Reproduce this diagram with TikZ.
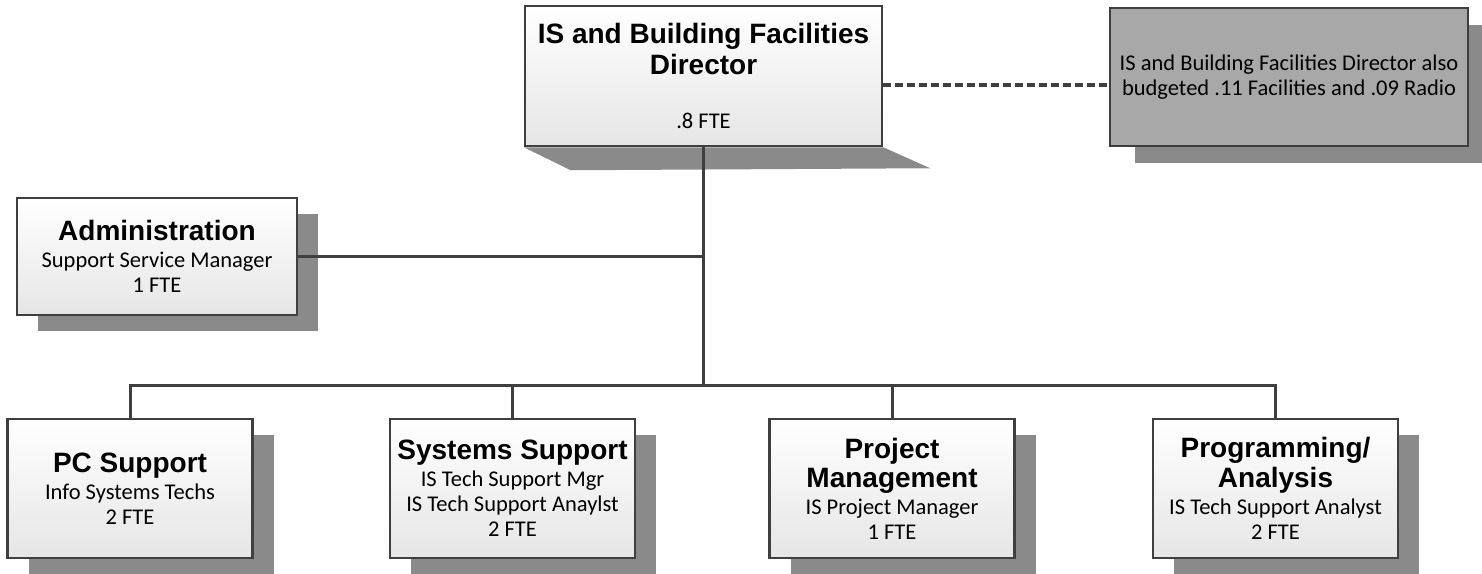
\documentclass[tikz,border=0pt]{standalone}
\usepackage{fontspec}
\setmainfont{Carlito}
\newfontfamily\headfamily{Liberation Sans}
\usetikzlibrary{shadows,backgrounds}
\definecolor{boxline}{HTML}{3F3F3F}
\definecolor{shadowgray}{HTML}{8A8A8A}
\definecolor{notegray}{HTML}{A8A8A8}
\newcommand{\headfont}{\headfamily\bfseries\fontsize{28}{31}\selectfont}
\newcommand{\bodyfont}{\normalfont\fontsize{22.5}{25}\selectfont}
\tikzset{
  plainunit/.style={draw=boxline,line width=2.5pt,top color=white,bottom color=black!10,
    align=center,inner sep=0pt,minimum width=245pt,minimum height=139pt},
  unit/.style={plainunit,
    drop shadow={shadow xshift=21pt,shadow yshift=-16pt,opacity=1,fill=shadowgray}},
  link/.style={draw=boxline,line width=3pt},
  notelink/.style={link,line width=3.5pt,dash pattern=on 8pt off 4pt}
}
\begin{document}
\begin{tikzpicture}[x=1pt,y=-1pt,font=\bodyfont]
  \useasboundingbox (0,0) rectangle (1482,573);
  \node[plainunit,minimum width=357pt,minimum height=140pt] (dir) at (703.5,76) {\headfont IS and Building Facilities\\[3pt]\headfont Director\\[29pt]\bodyfont .8 FTE};
  \node[plainunit,top color=notegray,bottom color=notegray,minimum width=358pt,minimum height=138pt,
    drop shadow={shadow xshift=25pt,shadow yshift=-17pt,opacity=1,fill=shadowgray}] (note) at (1289,77) {IS and Building Facilities Director also\\budgeted .11 Facilities and .09 Radio};
  \node[unit,minimum width=280pt,minimum height=117pt] (admin) at (157,256.5) {\headfont Administration\\[2pt]\bodyfont Support Service Manager\\\bodyfont 1 FTE};
  \node[unit] (pc) at (130,488.5) {\headfont PC Support\\[2pt]\bodyfont Info Systems Techs\\\bodyfont 2 FTE};
  \node[unit] (sys) at (512.5,488.5) {\headfont Systems Support\\[2pt]\bodyfont IS Tech Support Mgr\\\bodyfont IS Tech Support Anaylst\\\bodyfont 2 FTE};
  \node[unit] (pm) at (892,488.5) {\headfont Project\\[3pt]\headfont Management\\[2pt]\bodyfont IS Project Manager\\\bodyfont 1 FTE};
  \node[unit] (pa) at (1275.5,488.5) {\headfont Programming/\\[3pt]\headfont Analysis\\[2pt]\bodyfont IS Tech Support Analyst\\\bodyfont 2 FTE};
  \begin{scope}[on background layer]
    \fill[shadowgray] (dir.south west) -- (dir.south east) -- ([shift={(47pt,-21pt)}]dir.south east)
      -- ([shift={(47pt,-23pt)}]dir.south west) -- cycle;
  \end{scope}
  \coordinate (hub) at ([yshift=-238pt]dir.south);
  \draw[link] (dir.south) -- (hub);
  \draw[link] (admin.east) -- (admin.east -| dir.south);
  \draw[link] (pc.north) -- (pc.north |- hub) -- (pa.north |- hub) -- (pa.north);
  \draw[link] (sys.north) -- (sys.north |- hub);
  \draw[link] (pm.north) -- (pm.north |- hub);
  \draw[notelink] ([yshift=-9pt]dir.east) -- ([yshift=-9pt]dir.east -| note.west);
\end{tikzpicture}
\end{document}
